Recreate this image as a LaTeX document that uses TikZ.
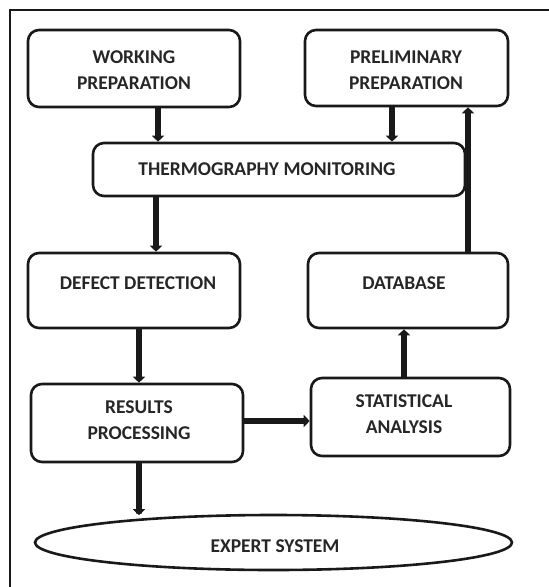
\documentclass[tikz,border=0pt]{standalone}
\usepackage{fontspec}
\setmainfont{Carlito}
\usetikzlibrary{arrows.meta,shapes.geometric}
\begin{document}
\begin{tikzpicture}[x=1pt,y=-1pt,
  box/.style={draw=black!90,line width=2.6pt,rounded corners=11pt,inner sep=0pt},
  txt/.style={font=\fontsize{19.5}{25.5}\selectfont\bfseries,text=black!85,align=center,inner sep=0pt},
  arr/.style={line width=6pt,draw=black!90,-{Triangle[width=12pt,length=6pt]}},
  frame/.style={draw=black!90,line width=2pt}]
\useasboundingbox (0,0) rectangle (549,587);
\draw[frame] (10,587) -- (10,10) -- (549,10);
% boxes
\node[box,minimum width=212pt,minimum height=77pt] (wp) at (134,68.5) {};
\node[box,minimum width=203pt,minimum height=76pt] (pp) at (406.5,68) {};
\node[box,minimum width=372pt,minimum height=53pt] (tm) at (279,169.5) {};
\node[box,minimum width=212pt,minimum height=75pt] (dd) at (134,290.5) {};
\node[box,minimum width=200pt,minimum height=75pt] (db) at (408,290.5) {};
\node[box,minimum width=212pt,minimum height=78pt] (rp) at (137,423) {};
\node[box,minimum width=199pt,minimum height=78pt] (sa) at (410.5,417) {};
\node[ellipse,draw=black!90,line width=2.6pt,minimum width=477pt,minimum height=55pt,inner sep=0pt] (es) at (273.5,542.5) {};
% texts
\node[txt] (twp) at (134,70) {WORKING\\PREPARATION};
\node[txt] (tpp) at (406,70) {PRELIMINARY\\PREPARATION};
\node[txt] (ttm) at (267,169) {THERMOGRAPHY MONITORING};
\node[txt] (tdd) at (138,283) {DEFECT DETECTION};
\node[txt] (tdb) at (404,283) {DATABASE};
\node[txt] (trp) at (139,420) {RESULTS\\PROCESSING};
\node[txt] (tsa) at (404,414) {STATISTICAL\\ANALYSIS};
\node[txt] (tes) at (275,546) {EXPERT SYSTEM};
% arrows
\draw[arr] (wp.south -| 158,0) -- (tm.north -| 158,0);
\draw[arr] (pp.south -| 392,0) -- (tm.north -| 392,0);
\draw[arr] (db.north -| 468,0) -- (pp.south -| 468,0);
\draw[arr] (tm.south -| 156,0) -- (dd.north -| 156,0);
\draw[arr] (dd.south -| 139,0) -- (rp.north -| 139,0);
\draw[arr] (rp.east |- 0,421) -- (sa.west |- 0,421);
\draw[arr] (sa.north -| 404,0) -- (db.south -| 404,0);
\draw[arr] (rp.south -| 139,0) -- (es.north -| 139,0) -- ++(0,1.5);
\end{tikzpicture}
\end{document}
